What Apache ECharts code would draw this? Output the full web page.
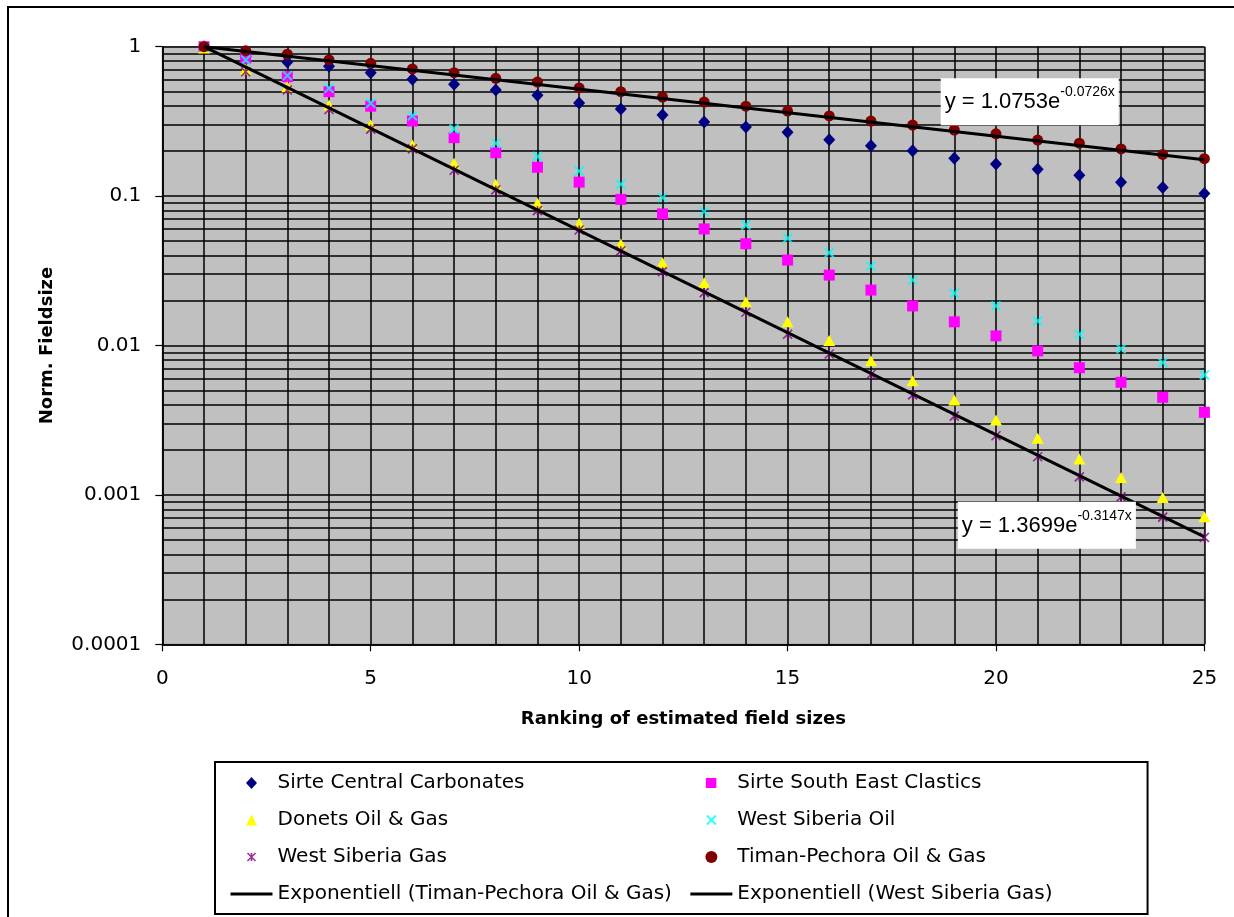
<!DOCTYPE html>
<html><head><meta charset="utf-8">
<script src="https://cdn.jsdelivr.net/npm/echarts@6/dist/echarts.min.js"></script>
<style>html,body{margin:0;padding:0;background:#fff}#c{width:1234px;height:917px}</style>
</head><body><div id="c"></div>
<script>
// ---- data ----
const ranks = [1,2,3,4,5,6,7,8,9,10,11,12,13,14,15,16,17,18,19,20,21,22,23,24,25];
const sirteCentralCarbonates = [1.0,0.86,0.79,0.74,0.67,0.605,0.56,0.513,0.473,0.42,0.383,0.349,0.313,0.29,0.268,0.238,0.217,0.201,0.179,0.164,0.151,0.138,0.124,0.114,0.104];
const sirteSouthEastClastics = [1.0,0.836,0.63,0.50,0.40,0.318,0.246,0.195,0.156,0.124,0.095,0.076,0.0603,0.048,0.0373,0.0296,0.0235,0.0184,0.0144,0.0116,0.0092,0.0071,0.00567,0.0045,0.00357];
const donetsOilGas = [0.98,0.706,0.54,0.407,0.30,0.22,0.166,0.12,0.0895,0.0658,0.0478,0.0358,0.0263,0.0196,0.0144,0.0108,0.0079,0.0058,0.00432,0.00317,0.00239,0.00174,0.00131,0.00096,0.000715];
const westSiberiaOil = [1.0,0.815,0.64,0.527,0.418,0.345,0.281,0.226,0.184,0.147,0.12,0.0977,0.0787,0.064,0.0522,0.0418,0.034,0.0274,0.0224,0.0184,0.0146,0.0119,0.0095,0.0077,0.00635];
const westSiberiaGas = [1.0,0.68,0.513,0.38,0.281,0.207,0.149,0.11,0.08,0.0593,0.043,0.0312,0.0226,0.0167,0.0119,0.00877,0.0064,0.00467,0.00337,0.00249,0.0018,0.00132,0.00097,0.00071,0.00052];
const timanPechora = [1.0,0.94,0.89,0.815,0.774,0.71,0.67,0.614,0.58,0.53,0.50,0.46,0.426,0.40,0.371,0.344,0.318,0.299,0.277,0.261,0.237,0.226,0.207,0.19,0.178];
const trendX = [1, 25];
const trendTimanY = [1.0000, 0.1751];
const trendWsgY = [1.0001, 0.000524];
const xTickLabels = ['0','5','10','15','20','25'];
const yTickLabels = ['0.0001','0.001','0.01','0.1','1'];
const yMinorGrid = [0.0002,0.0003,0.0004,0.0005,0.0006,0.0007,0.0008,0.0009,
                    0.002,0.003,0.004,0.005,0.006,0.007,0.008,0.009,
                    0.02,0.03,0.04,0.05,0.06,0.07,0.08,0.09,
                    0.2,0.3,0.4,0.5,0.6,0.7,0.8,0.9];
const names = {
  scc: 'Sirte Central Carbonates',
  ssec: 'Sirte South East Clastics',
  don: 'Donets Oil & Gas',
  wso: 'West Siberia Oil',
  wsg: 'West Siberia Gas',
  tp: 'Timan-Pechora Oil & Gas',
  expTp: 'Exponentiell (Timan-Pechora Oil & Gas)',
  expWsg: 'Exponentiell (West Siberia Gas)'
};

const pair = arr => ranks.map((r, i) => [r, arr[i]]);
const pairT = arr => trendX.map((r, i) => [r, arr[i]]);
const FONT = 'DejaVu Sans';
const EQFONT = 'Liberation Sans';
const GRIDW = 1.5;

// legend icons: drawn inside a 42x12 box so they keep their shape
const LEG_DIAMOND = 'path://M0,0M42,12M15.5,6L21,0L26.5,6L21,12Z';
const LEG_SQUARE = 'path://M0,0M42,12M15.5,1L26,1L26,11L15.5,11Z';
const LEG_TRIANGLE = 'path://M0,0M42,12M21,0.5L26.5,11.5L15.5,11.5Z';
const LEG_X = 'path://M0,0M42,12M16.5,1.5L25.5,10.5M25.5,1.5L16.5,10.5';
const LEG_STAR = 'path://M0,0M42,12M17,2L25,10M25,2L17,10M21,2L21,10';

function scatter(name, arr, symbol, size, color, extra) {
  return Object.assign({
    name, type: 'scatter', data: pair(arr), symbol, symbolSize: size, z: 3,
    itemStyle: { color, opacity: 1 }, emphasis: { disabled: true }
  }, extra || {});
}

function eqLabel(coord, main, sup) {
  return {
    symbol: 'rect', symbolSize: 1, itemStyle: { color: 'rgba(0,0,0,0)' }, z: 10, silent: true,
    label: {
      show: true, position: 'inside',
      formatter: '{a|' + main + '}{b|' + sup + '}',
      backgroundColor: '#fff', padding: [7, 4, 6, 4],
      rich: {
        a: { fontFamily: EQFONT, fontSize: 22, lineHeight: 34, color: '#000' },
        b: { fontFamily: EQFONT, fontSize: 14, lineHeight: 16, verticalAlign: 'top', color: '#000' }
      }
    },
    data: [{ coord }]
  };
}

const chart = echarts.init(document.getElementById('c'), null, { renderer: 'canvas' });
chart.setOption({
  animation: false,
  backgroundColor: '#fff',
  textStyle: { fontFamily: FONT, color: '#000' },
  graphic: [{
    type: 'rect', z: 100, silent: true,
    shape: { x: 8, y: 7, width: 1260, height: 960 },
    style: { fill: 'none', stroke: '#000', lineWidth: 2 }
  }],
  grid: {
    left: 162.3, right: 29.6, top: 46.7, bottom: 272.7,
    show: true, backgroundColor: '#C0C0C0', borderColor: '#808080', borderWidth: 1
  },
  xAxis: {
    type: 'value', min: 0, max: 25, interval: 5,
    name: 'Ranking of estimated field sizes', nameLocation: 'middle', nameGap: 66,
    nameTextStyle: { fontFamily: FONT, fontSize: 18, fontWeight: 'bold', color: '#000' },
    axisLine: { show: true, lineStyle: { color: '#000', width: 1.5 } },
    axisTick: { show: true, length: 7, inside: false, lineStyle: { color: '#000', width: 1.2 } },
    axisLabel: {
      margin: 24, fontFamily: FONT, fontSize: 20, color: '#000',
      showMinLabel: true, showMaxLabel: true,
      formatter: v => xTickLabels[Math.round(v / 5)]
    },
    splitLine: { show: true, lineStyle: { color: '#000', width: GRIDW } },
    minorTick: { show: false, splitNumber: 5 },
    minorSplitLine: { show: true, lineStyle: { color: '#000', width: GRIDW } }
  },
  yAxis: {
    type: 'log', logBase: 10, min: 0.0001, max: 1,
    name: 'Norm. Fieldsize', nameLocation: 'middle', nameGap: 106, nameRotate: 90,
    nameTextStyle: { fontFamily: FONT, fontSize: 18, fontWeight: 'bold', color: '#000' },
    axisLine: { show: true, lineStyle: { color: '#000', width: 1.5 } },
    axisTick: { show: true, length: 7, inside: false, lineStyle: { color: '#000', width: 1.2 } },
    axisLabel: {
      margin: 21, fontFamily: FONT, fontSize: 20, color: '#000',
      showMinLabel: true, showMaxLabel: true,
      formatter: v => yTickLabels[Math.round(Math.log10(v)) + 4]
    },
    splitLine: { show: true, lineStyle: { color: '#000', width: GRIDW } }
  },
  legend: {
    orient: 'vertical', left: 215, top: 762, height: 140,
    padding: [11, 95, 10, 14], itemGap: 17, itemWidth: 42, itemHeight: 12,
    borderColor: '#000', borderWidth: 2, backgroundColor: '#fff',
    textStyle: { fontFamily: FONT, fontSize: 20, lineHeight: 20, color: '#000' },
    selectedMode: false,
    data: [
      { name: names.scc, icon: LEG_DIAMOND },
      { name: names.don, icon: LEG_TRIANGLE },
      { name: names.wsg, icon: LEG_STAR, itemStyle: { borderWidth: 1.6, borderColor: '#800080' } },
      { name: names.expTp, itemStyle: { color: 'rgba(0,0,0,0)', borderWidth: 0 }, lineStyle: { width: 3, color: '#000' } },
      { name: names.ssec, icon: LEG_SQUARE },
      { name: names.wso, icon: LEG_X, itemStyle: { borderWidth: 2, borderColor: '#00FFFF' } },
      { name: names.tp },
      { name: names.expWsg, itemStyle: { color: 'rgba(0,0,0,0)', borderWidth: 0 }, lineStyle: { width: 3, color: '#000' } }
    ]
  },
  series: [
    {
      name: 'minorGrid', type: 'scatter', data: [], silent: true, z: 1,
      markLine: {
        z: 1, silent: true, symbol: ['none', 'none'], animation: false, precision: 8,
        label: { show: false }, emphasis: { disabled: true },
        lineStyle: { color: '#000', width: GRIDW, type: 'solid' },
        data: yMinorGrid.map(v => ({ yAxis: v }))
      }
    },
    scatter(names.scc, sirteCentralCarbonates, 'diamond', [12, 13], '#000080'),
    scatter(names.ssec, sirteSouthEastClastics, 'rect', 11, '#FF00FF'),
    scatter(names.don, donetsOilGas, 'triangle', [12, 11], '#FFFF00'),
    scatter(names.wso, westSiberiaOil, 'path://M0,0L10,10M10,0L0,10', 9, '#00FFFF',
      { itemStyle: { color: '#00FFFF', borderColor: '#00FFFF', borderWidth: 2 } }),
    scatter(names.wsg, westSiberiaGas, 'path://M0,0L10,10M10,0L0,10M5,0L5,10', 9, '#800080',
      { itemStyle: { color: '#800080', borderColor: '#800080', borderWidth: 1.6 } }),
    scatter(names.tp, timanPechora, 'circle', 11, '#800000'),
    {
      name: names.expTp, type: 'line', data: pairT(trendTimanY), showSymbol: false, symbol: 'none',
      z: 5, lineStyle: { color: '#000', width: 3 }, itemStyle: { color: '#000' },
      emphasis: { disabled: true },
      markPoint: eqLabel([20.81, 0.428], 'y = 1.0753e', '-0.0726x')
    },
    {
      name: names.expWsg, type: 'line', data: pairT(trendWsgY), showSymbol: false, symbol: 'none',
      z: 5, lineStyle: { color: '#000', width: 3 }, itemStyle: { color: '#000' },
      emphasis: { disabled: true },
      markPoint: eqLabel([21.22, 0.000626], 'y = 1.3699e', '-0.3147x')
    }
  ]
});
</script>
</body></html>
